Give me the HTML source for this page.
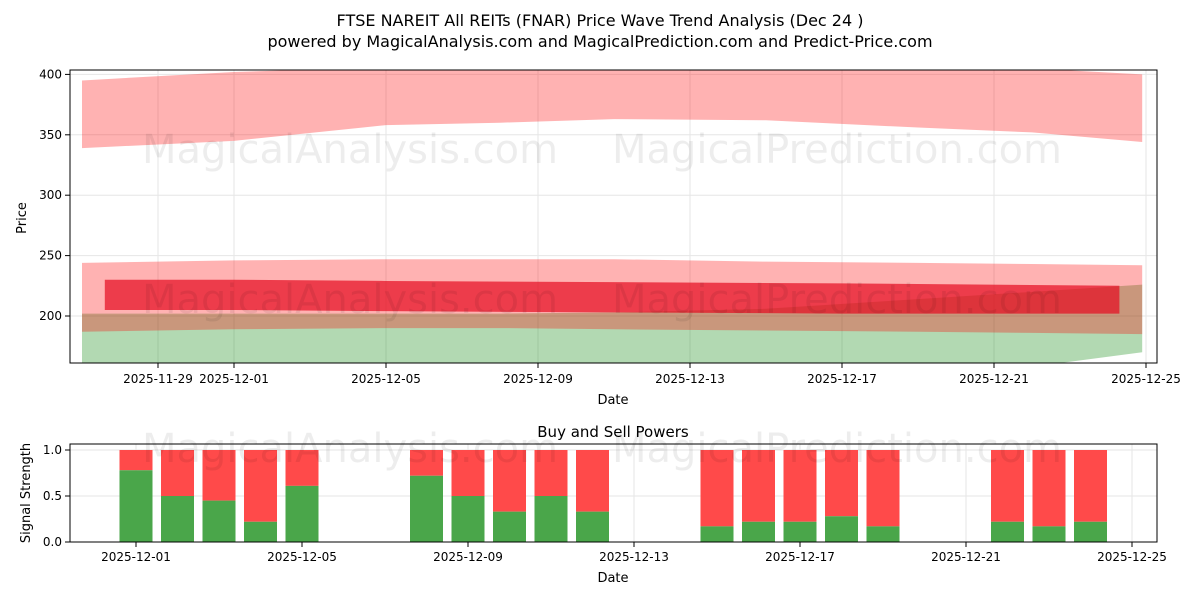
<!DOCTYPE html>
<html><head><meta charset="utf-8"><style>
body{margin:0;background:#fff;font-family:"Liberation Sans","DejaVu Sans",sans-serif}
svg text{font-family:"DejaVu Sans","Liberation Sans",sans-serif}
</style></head><body>
<svg id="c" width="1200" height="600" xmlns="http://www.w3.org/2000/svg">
<text x="600" y="26" text-anchor="middle" font-size="16">FTSE NAREIT All REITs (FNAR) Price Wave Trend Analysis (Dec 24 )</text>
<text x="600" y="47" text-anchor="middle" font-size="16">powered by MagicalAnalysis.com and MagicalPrediction.com and Predict-Price.com</text>
<defs><clipPath id="cp1"><rect x="70" y="70" width="1087" height="293"/></clipPath></defs>
<g id="topG"></g>
<g id="botG"></g>
</svg>
<script>
// top chart data (days offset from 2025-11-27)
const bandDays = [0, 4, 8, 11, 14, 18, 22, 25, 27.9];
const band1Upper = [395, 402, 406, 406, 406, 406, 406, 405, 400];
const band1Lower = [339, 345, 358, 360, 363, 362, 356, 352, 344];
const band2Upper = [244, 246, 247, 247, 247, 245, 244, 243, 242];
const band2Lower = [187, 189, 190, 190, 189, 188, 187, 186, 185];
const greenUpper = [202, 202, 202, 202, 203, 206, 214, 220, 226];
const greenLower = [150, 150, 150, 150, 150, 150, 150, 158, 170];
const darkDays = [0.6, 4, 8, 14, 20, 27.3];
const darkUpper = [230, 230, 229, 228, 227, 225];
const darkLower = [205, 205, 204, 203, 202, 202];
const yTicks = [200, 250, 300, 350, 400];
const xTickLabels = ["2025-11-29","2025-12-01","2025-12-05","2025-12-09","2025-12-13","2025-12-17","2025-12-21","2025-12-25"];
const xTickDays = [2, 4, 8, 12, 16, 20, 24, 28];
// bottom chart data (days offset from 2025-12-01)
const barDays = [0,1,2,3,4,7,8,9,10,11,14,15,16,17,18,21,22,23];
const buyPower = [0.78,0.5,0.45,0.22,0.61,0.72,0.5,0.33,0.5,0.33,0.17,0.22,0.22,0.28,0.17,0.22,0.17,0.22];
const bTickLabels = ["2025-12-01","2025-12-05","2025-12-09","2025-12-13","2025-12-17","2025-12-21","2025-12-25"];
const bTickDays = [0,4,8,12,16,20,24];
const bYTicks = [0.0, 0.5, 1.0];

const NS = "http://www.w3.org/2000/svg";
function mk(tag, attrs, parent, txt){const e=document.createElementNS(NS,tag);for(const k in attrs)e.setAttribute(k,attrs[k]);if(txt!==undefined)e.textContent=txt;parent.appendChild(e);return e;}
const X = d => 82 + d*38;
const Y = v => 316 - (v-200)*60.4/50;
const topG = document.getElementById('topG');
yTicks.forEach(v=>{const l=mk('line',{x1:70,x2:1157,y1:Y(v),y2:Y(v),stroke:'#e6e6e6'},topG);});
xTickDays.forEach(d=>{const l=mk('line',{x1:X(d),x2:X(d),y1:70,y2:363,stroke:'#e6e6e6'},topG);});
const clipG = mk('g',{'clip-path':'url(#cp1)'},topG);
function band(days, up, lo, fill, op, name){
  let pts = days.map((d,i)=>X(d)+','+Y(up[i]));
  for(let i=days.length-1;i>=0;i--) pts.push(X(days[i])+','+Y(lo[i]));
  const p = mk('polygon',{points:pts.join(' '),fill:fill,'fill-opacity':op},clipG);
  
  
}
band(bandDays, greenUpper, greenLower, '#008000', 0.3, 'green-band');
band(bandDays, band1Upper, band1Lower, '#ff0000', 0.3, 'upper-red-band');
band(bandDays, band2Upper, band2Lower, '#ff0000', 0.3, 'middle-red-band');
band(darkDays, darkUpper, darkLower, '#e60a1f', 0.7, 'dark-red-band');
mk('text',{x:350,y:163,'font-size':40,fill:'#000','fill-opacity':0.07,'text-anchor':'middle'},topG,'MagicalAnalysis.com');
mk('text',{x:837,y:163,'font-size':40,fill:'#000','fill-opacity':0.07,'text-anchor':'middle'},topG,'MagicalPrediction.com');
mk('text',{x:350,y:313,'font-size':40,fill:'#000','fill-opacity':0.07,'text-anchor':'middle'},topG,'MagicalAnalysis.com');
mk('text',{x:837,y:313,'font-size':40,fill:'#000','fill-opacity':0.07,'text-anchor':'middle'},topG,'MagicalPrediction.com');
mk('rect',{x:70,y:70,width:1087,height:293,fill:'none',stroke:'#000','stroke-width':1},topG);
yTicks.forEach(v=>{mk('line',{x1:65,x2:70,y1:Y(v),y2:Y(v),stroke:'#000'},topG);const t=mk('text',{x:62,y:Y(v)+4,'font-size':12,'text-anchor':'end'},topG,v);});
xTickDays.forEach((d,i)=>{mk('line',{x1:X(d),x2:X(d),y1:363,y2:368,stroke:'#000'},topG);const t=mk('text',{x:X(d),y:383,'font-size':12,'text-anchor':'middle'},topG,xTickLabels[i]);});
mk('text',{x:613,y:404,'font-size':13,'text-anchor':'middle'},topG,'Date');
mk('text',{x:26,y:218,'font-size':13,'text-anchor':'middle',transform:'rotate(-90 26 218)'},topG,'Price');

const botG = document.getElementById('botG');
const BX = d => 136 + d*41.5;
const BY = v => 542 - v*92;
bYTicks.forEach(v=>{const l=mk('line',{x1:70,x2:1157,y1:BY(v),y2:BY(v),stroke:'#e6e6e6'},botG);});
bTickDays.forEach(d=>mk('line',{x1:BX(d),x2:BX(d),y1:444,y2:542,stroke:'#e6e6e6'},botG));
barDays.forEach((d,i)=>{
  const b=buyPower[i];
  const r=mk('rect',{x:BX(d)-16.5,y:BY(1),width:33,height:BY(b)-BY(1),fill:'#ff4a4a'},botG);
  
  
  const gr=mk('rect',{x:BX(d)-16.5,y:BY(b),width:33,height:BY(0)-BY(b),fill:'#4aa64a'},botG);
  
  
});
mk('text',{x:350,y:462,'font-size':40,fill:'#000','fill-opacity':0.07,'text-anchor':'middle'},botG,'MagicalAnalysis.com');
mk('text',{x:837,y:462,'font-size':40,fill:'#000','fill-opacity':0.07,'text-anchor':'middle'},botG,'MagicalPrediction.com');
mk('rect',{x:70,y:444,width:1087,height:98,fill:'none',stroke:'#000'},botG);
mk('text',{x:613,y:437,'font-size':15,'text-anchor':'middle'},botG,'Buy and Sell Powers');
bYTicks.forEach(v=>{mk('line',{x1:65,x2:70,y1:BY(v),y2:BY(v),stroke:'#000'},botG);const t=mk('text',{x:62,y:BY(v)+4,'font-size':12,'text-anchor':'end'},botG,v.toFixed(1));});
bTickDays.forEach((d,i)=>{mk('line',{x1:BX(d),x2:BX(d),y1:542,y2:547,stroke:'#000'},botG);const t=mk('text',{x:BX(d),y:561,'font-size':12,'text-anchor':'middle'},botG,bTickLabels[i]);});
mk('text',{x:613,y:582,'font-size':13,'text-anchor':'middle'},botG,'Date');
mk('text',{x:30,y:493,'font-size':13,'text-anchor':'middle',transform:'rotate(-90 30 493)'},botG,'Signal Strength');
</script>
</body></html>
